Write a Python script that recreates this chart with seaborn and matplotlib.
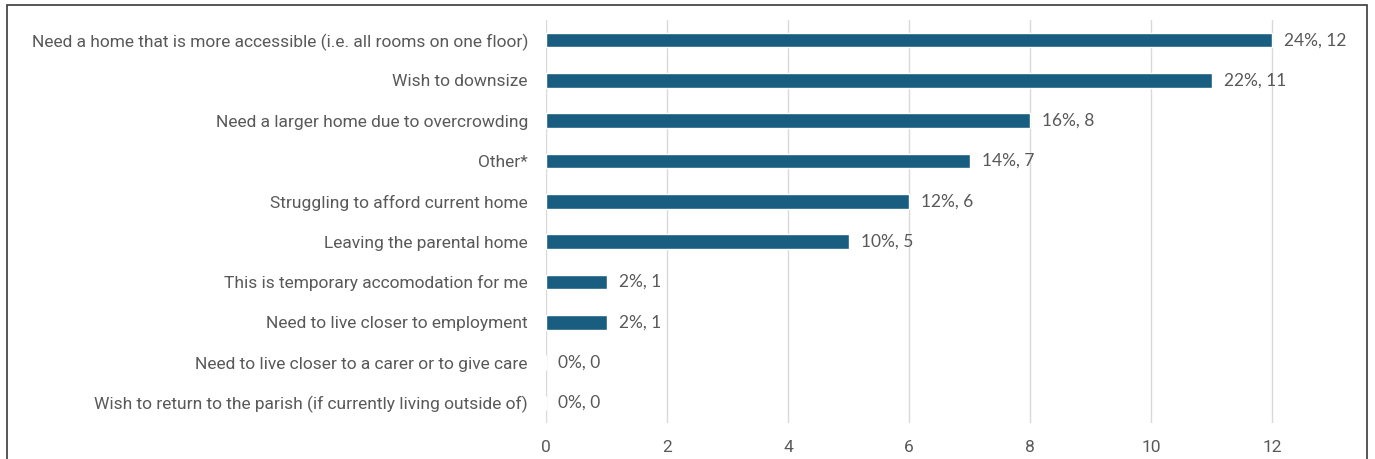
import matplotlib
matplotlib.use("Agg")
import matplotlib.pyplot as plt
import seaborn as sns
import pandas as pd
from matplotlib.patches import Rectangle

reasons = [
    "Need a home that is more accessible (i.e. all rooms on one floor)",
    "Wish to downsize",
    "Need a larger home due to overcrowding",
    "Other*",
    "Struggling to afford current home",
    "Leaving the parental home",
    "This is temporary accomodation for me",
    "Need to live closer to employment",
    "Need to live closer to a carer or to give care",
    "Wish to return to the parish (if currently living outside of)",
]
counts = [12, 11, 8, 7, 6, 5, 1, 1, 0, 0]
percents = [24, 22, 16, 14, 12, 10, 2, 2, 0, 0]
x_ticks = [0, 2, 4, 6, 8, 10, 12]

df = pd.DataFrame({"reason": reasons, "count": counts, "pct": percents})

sns.set_theme(style="white")
plt.rcParams["font.family"] = ["Roboto", "DejaVu Sans"]

text_color = "#595959"
bar_color = "#195e80"

fig = plt.figure(figsize=(13.75, 4.59), dpi=100)
ax = fig.add_axes([546 / 1375, 36 / 459, 811 / 1375, 403 / 459])

sns.barplot(data=df, x="count", y="reason", orient="h", color=bar_color,
            width=0.36, saturation=1, ax=ax, zorder=3)

ax.set_xlim(0, 13.4)
ax.set_ylim(9.5, -0.5)
ax.set_xticks(x_ticks)
ax.set_xticklabels([str(t) for t in x_ticks])
ax.grid(axis="x", color="#d9d9d9", linewidth=1, zorder=0)
ax.grid(axis="y", visible=False)
for s in ax.spines.values():
    s.set_visible(False)
ax.set_xlabel("")
ax.set_ylabel("")
ax.tick_params(axis="y", length=0, pad=13, labelsize=12.5, labelcolor=text_color)
ax.tick_params(axis="x", length=0, pad=12, labelsize=12.5, labelcolor=text_color)

for i, (c, p) in enumerate(zip(counts, percents)):
    ax.text(c + 0.2, i, f"{p}%, {c}", va="center", ha="left",
            fontsize=12.5, color=text_color, family=["Lato", "DejaVu Sans"],
            clip_on=False)

# outer frame of the chart area
fig.patches.append(Rectangle((7 / 1375, -0.05), 1360 / 1375, 1.05 - 5 / 459,
                             transform=fig.transFigure, fill=False,
                             edgecolor="#3a3a3a", linewidth=1.2))

fig.savefig("out.png", dpi=100)
